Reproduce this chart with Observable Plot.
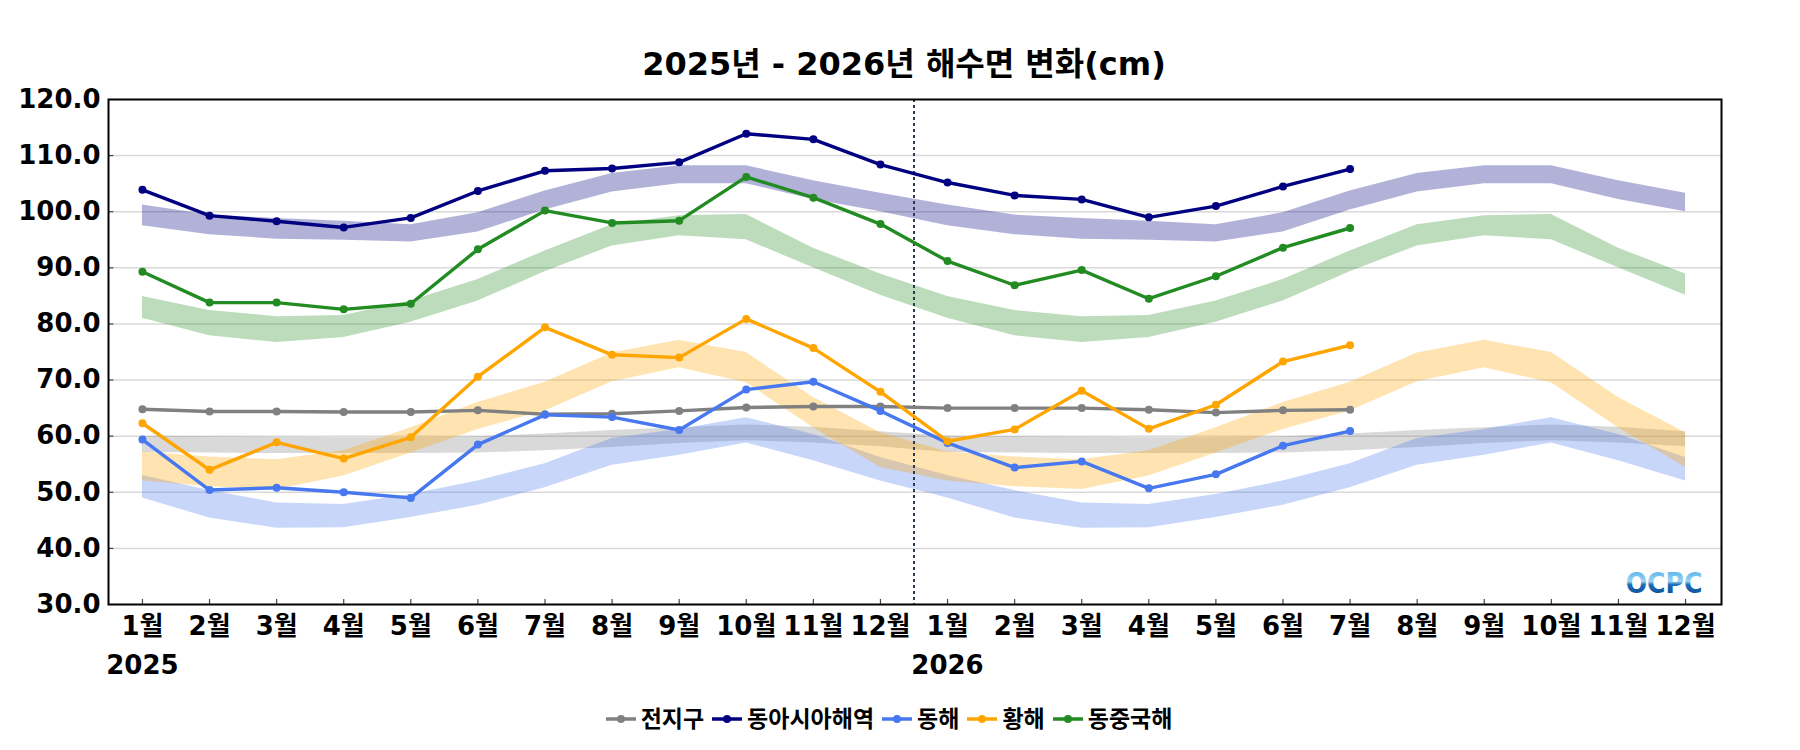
<!DOCTYPE html>
<html>
<head>
<meta charset="utf-8">
<script src="https://cdn.jsdelivr.net/npm/d3@7"></script>
<script src="https://cdn.jsdelivr.net/npm/@observablehq/plot@0.6"></script>
<style>
  html, body { margin: 0; padding: 0; background: #fff; }
  body { width: 1800px; height: 750px; overflow: hidden; font-family: "DejaVu Sans", "Noto Sans CJK KR", sans-serif; }
  #title { height: 44px; padding-top: 46px; line-height: 36px; text-align: center; font-size: 32px; font-weight: bold; color: #000; padding-left: 8px; }
  #chart { height: 600px; }
  #legend { display: flex; justify-content: center; align-items: center; padding-top: 16px; line-height: 26px; font-size: 23px; font-weight: bold; padding-right: 14px; }
  .item { display: flex; align-items: center; margin-right: 8px; }
  .item svg { margin-right: 5px; }
</style>
</head>
<body>
<div id="title">2025년 - 2026년 해수면 변화(cm)</div>
<div id="chart"></div>
<div id="legend"></div>
<script>
// ---- data ----
const months = ["1월","2월","3월","4월","5월","6월","7월","8월","9월","10월","11월","12월",
                "1월","2월","3월","4월","5월","6월","7월","8월","9월","10월","11월","12월"];
const years = ["2025", "2026"];
const yearIndex = [0, 12];
const yTicks = [30, 40, 50, 60, 70, 80, 90, 100, 110, 120];
const seriesNames = ["전지구", "동아시아해역", "동해", "황해", "동중국해"];
const seriesColors = ["#808080", "#000080", "#4878f0", "#ffa500", "#228b22"];

// observed (2025-01 .. 2026-07)
const globalObs   = [64.8,64.4,64.4,64.3,64.3,64.6,63.9,64.0,64.5,65.1,65.3,65.3, 65.0,65.0,65.0,64.7,64.2,64.6,64.7];
const eastAsiaObs = [103.9,99.3,98.3,97.2,98.9,103.7,107.3,107.7,108.8,113.9,112.9,108.4, 105.2,102.9,102.2,99.0,101.0,104.5,107.6];
const eastSeaObs  = [59.4,50.4,50.8,50.0,49.0,58.5,63.8,63.4,61.1,68.3,69.7,64.5, 58.8,54.4,55.5,50.7,53.2,58.3,60.9];
const yellowObs   = [62.3,54.0,58.9,56.0,59.8,70.6,79.4,74.5,74.0,80.9,75.7,67.9, 59.1,61.2,68.1,61.3,65.6,73.3,76.2];
const ecsObs      = [89.3,83.8,83.8,82.6,83.6,93.3,100.2,98.0,98.4,106.2,102.5,97.8, 91.2,86.9,89.6,84.5,88.5,93.6,97.1];

// climatological ranges (2025-01 .. 2026-12)
const globalLo   = [57.1,57.0,56.9,56.9,56.9,57.0,57.4,58.0,58.7,59.2,58.8,58.1, 57.1,57.0,56.9,56.9,56.9,57.0,57.4,58.0,58.7,59.2,58.8,58.1];
const globalHi   = [60.0,59.9,59.8,59.7,59.7,59.9,60.4,61.0,61.5,62.0,61.6,60.8, 60.0,59.9,59.8,59.7,59.7,59.9,60.4,61.0,61.5,62.0,61.6,60.8];
const eastAsiaLo = [97.5,95.9,95.1,94.9,94.6,96.4,100.3,103.5,105.0,105.0,102.2,100.0, 97.5,95.9,95.1,94.9,94.6,96.4,100.3,103.5,105.0,105.0,102.2,100.0];
const eastAsiaHi = [101.2,99.4,98.8,98.3,97.7,99.8,103.7,106.8,108.2,108.2,105.5,103.3, 101.2,99.4,98.8,98.3,97.7,99.8,103.7,106.8,108.2,108.2,105.5,103.3];
const eastSeaLo  = [49.0,45.4,43.6,43.7,45.5,47.7,50.8,54.8,56.6,58.8,55.6,52.0, 49.0,45.4,43.6,43.7,45.5,47.7,50.8,54.8,56.6,58.8,55.6,52.0];
const eastSeaHi  = [53.0,50.3,48.1,47.8,49.6,52.0,55.1,59.6,61.2,63.3,60.3,56.2, 53.0,50.3,48.1,47.8,49.6,52.0,55.1,59.6,61.2,63.3,60.3,56.2];
const yellowLo   = [52.0,51.0,50.5,52.9,57.0,61.2,64.5,69.7,72.2,69.5,61.5,54.4, 52.0,51.0,50.5,52.9,57.0,61.2,64.5,69.7,72.2,69.5,61.5,54.4];
const yellowHi   = [57.2,56.3,55.8,57.4,61.5,66.0,69.6,74.8,77.1,74.9,66.9,60.6, 57.2,56.3,55.8,57.4,61.5,66.0,69.6,74.8,77.1,74.9,66.9,60.6];
const ecsLo      = [81.0,77.9,76.7,77.6,80.3,84.1,89.3,93.9,95.7,95.0,90.0,85.1, 81.0,77.9,76.7,77.6,80.3,84.1,89.3,93.9,95.7,95.0,90.0,85.1];
const ecsHi      = [84.9,82.4,81.3,81.5,84.1,87.9,93.0,97.7,99.3,99.5,93.5,88.9, 84.9,82.4,81.3,81.5,84.1,87.9,93.0,97.7,99.3,99.5,93.5,88.9];

// ---- build tables ----
const obsList = [globalObs, eastAsiaObs, eastSeaObs, yellowObs, ecsObs];
const loList = [globalLo, eastAsiaLo, eastSeaLo, yellowLo, ecsLo];
const hiList = [globalHi, eastAsiaHi, eastSeaHi, yellowHi, ecsHi];
const obsRows = obsList.map(arr => arr.map((v, i) => ({i, v})));
const bandRows = loList.map((lo, k) => lo.map((l, i) => ({i, lo: l, hi: hiList[k][i]})));
const monthIdx = months.map((m, i) => i);
const yearRows = years.map((y, k) => ({i: yearIndex[k], label: y}));

const xDomain = [-0.506, 23.536];
const marks = [
  Plot.ruleY(yTicks.filter(d => d > 30 && d < 120), {stroke: "#d9d9d9", strokeWidth: 1.5}),
];
for (let k = 0; k < 5; k++) {
  marks.push(Plot.areaY(bandRows[k], {x: "i", y1: "lo", y2: "hi", fill: seriesColors[k], fillOpacity: 0.3}));
}
marks.push(Plot.ruleX([11.5], {stroke: "#2b3a55", strokeWidth: 2, strokeDasharray: "3,3"}));
for (let k = 0; k < 5; k++) {
  marks.push(Plot.lineY(obsRows[k], {x: "i", y: "v", stroke: seriesColors[k], strokeWidth: 3.4}));
  marks.push(Plot.dot(obsRows[k], {x: "i", y: "v", fill: seriesColors[k], r: 4}));
}
marks.push(
  Plot.ruleX(monthIdx, {y1: 30, y2: 30.9, stroke: "#444", strokeWidth: 1.2}),
  Plot.ruleY(yTicks.filter(d => d > 30 && d < 120), {x1: xDomain[0], x2: xDomain[0] + 0.08, stroke: "#444", strokeWidth: 1.2}),
  Plot.frame({stroke: "#000", strokeWidth: 2}),
  Plot.axisX(monthIdx, {label: null, tickSize: 0, tickPadding: 12, tickFormat: i => months[i], fontSize: 26, fontWeight: "bold", fill: "#000"}),
  Plot.axisY(yTicks, {label: null, tickSize: 0, tickPadding: 8, tickFormat: d => d.toFixed(1), fontSize: 26, fontWeight: "bold", fill: "#000"}),
  Plot.text(yearRows, {x: "i", y: () => 30, text: "label", dy: 61, fontSize: 26, fontWeight: "bold", fill: "#000"}),
  Plot.text(["OCPC"], {frameAnchor: "bottom-right", dx: -19, dy: -12, textAnchor: "end", lineAnchor: "bottom", fontSize: 28, fontWeight: "bold", fontFamily: "DejaVu Sans Condensed", fill: "url(#ocpcGrad)"})
);

const chart = Plot.plot({
  width: 1800,
  height: 600,
  marginTop: 9,
  marginBottom: 86,
  marginLeft: 108,
  marginRight: 79,
  style: {fontFamily: "'DejaVu Sans', 'Noto Sans CJK KR', sans-serif", fontWeight: "bold", color: "#000", background: "#fff", overflow: "visible"},
  x: {domain: xDomain, axis: null},
  y: {domain: [30, 120], axis: null},
  marks
});

const defs = d3.select(chart).insert("defs", ":first-child");
const grad = defs.append("linearGradient").attr("id", "ocpcGrad").attr("x1", 0).attr("y1", 0).attr("x2", 0).attr("y2", 1);
grad.append("stop").attr("offset", "0%").attr("stop-color", "#3aa6e8");
grad.append("stop").attr("offset", "45%").attr("stop-color", "#9fd4f2");
grad.append("stop").attr("offset", "55%").attr("stop-color", "#1a6fb8");
grad.append("stop").attr("offset", "100%").attr("stop-color", "#0a3f86");
document.getElementById("chart").appendChild(chart);

// ---- legend ----
const legend = document.getElementById("legend");
seriesNames.forEach((name, k) => {
  const item = document.createElement("div");
  item.className = "item";
  item.innerHTML = `<svg width="30" height="12"><line x1="0" y1="6" x2="30" y2="6" stroke="${seriesColors[k]}" stroke-width="3.5"/><circle cx="15" cy="6" r="4" fill="${seriesColors[k]}"/></svg><span>${name}</span>`;
  legend.appendChild(item);
});
</script>
</body>
</html>
